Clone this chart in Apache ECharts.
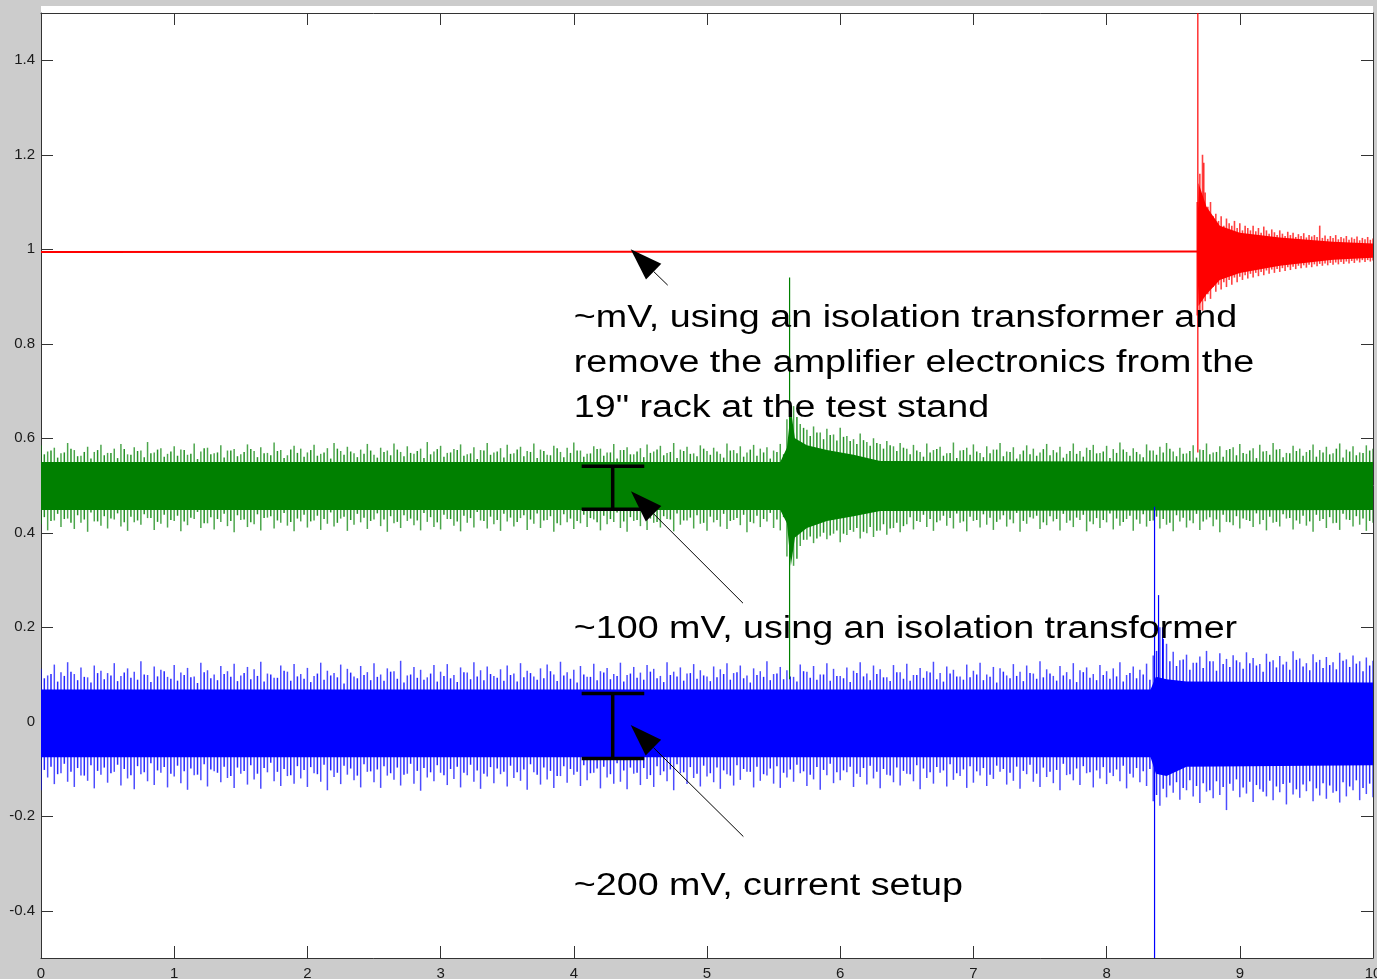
<!DOCTYPE html>
<html><head><meta charset="utf-8">
<script src="https://cdn.jsdelivr.net/npm/echarts@6/dist/echarts.min.js"></script>
<style>html,body{margin:0;padding:0;background:#cccccc;}#c{width:1377px;height:979px;}</style>
</head><body><div id="c"></div>
<script>
// ---- axes ----
const xTicks = [0,1,2,3,4,5,6,7,8,9,10];
const yTicks = [-0.4,-0.2,0,0.2,0.4,0.6,0.8,1,1.2,1.4];

// ---- noise envelopes ----
// outer peaks sampled every noiseStep from x=0; inner peaks sampled every noiseStep from x=innerStart
const noiseStep = 0.05;
const innerStart = 0.025;
const greenTop = [
.585,.572,.580,.568,.590,.575,.563,.582,.571,.586,
.569,.578,.588,.566,.581,.574,.592,.570,.579,.567,
.583,.576,.565,.589,.572,.580,.568,.585,.574,.577,
.566,.587,.573,.581,.569,.591,.575,.564,.584,.578,
.570,.586,.567,.579,.590,.573,.582,.568,.576,.588,
.565,.580,.574,.589,.571,.583,.567,.578,.592,.572,
.584,.569,.577,.587,.566,.581,.575,.590,.570,.579,
.586,.568,.582,.573,.589,.576,.565,.584,.571,.580,
.591,.574,.567,.583,.578,.570,.588,.575,.581,.566,
.579,.587,.572,.584,.569,.590,.576,.582,.568,.585,
.573,.580,.567,.589,.575,.583,.570,.586,.578,.581,
.574,.588,.640,.668,.630,.618,.625,.612,.620,.608,
.622,.605,.598,.610,.592,.600,.588,.594,.583,.590,
.578,.586,.571,.589,.575,.582,.568,.591,.574,.580,
.587,.569,.583,.576,.590,.572,.581,.566,.585,.578,
.570,.588,.575,.582,.567,.589,.573,.580,.586,.569,
.584,.577,.591,.571,.579,.566,.587,.574,.582,.590,
.572,.580,.568,.585,.576,.589,.570,.583,.575,.581,
.588,.567,.579,.586,.573,.590,.577,.569,.584,.578,
.571,.587,.575,.582,.568,.589,.576,.583,.570,.585,
.578];
const greenBottom = [
.418,.405,.426,.412,.430,.408,.421,.402,.424,.415,
.409,.428,.413,.404,.422,.417,.431,.406,.419,.411,
.425,.403,.416,.429,.410,.420,.407,.423,.414,.401,
.427,.412,.418,.405,.432,.409,.421,.415,.403,.424,
.411,.426,.406,.419,.413,.430,.404,.417,.422,.408,
.428,.414,.402,.420,.410,.425,.416,.405,.423,.412,
.407,.429,.415,.403,.421,.411,.426,.409,.418,.404,
.424,.413,.431,.406,.419,.410,.427,.402,.416,.422,
.408,.420,.412,.428,.405,.418,.423,.410,.402,.425,
.414,.406,.421,.411,.429,.403,.417,.426,.409,.419,
.404,.422,.413,.408,.427,.416,.401,.420,.412,.424,
.410,.405,.350,.330,.372,.385,.378,.392,.386,.398,
.380,.395,.402,.388,.399,.391,.405,.396,.410,.401,
.418,.407,.423,.412,.404,.426,.415,.409,.421,.403,
.425,.411,.417,.406,.428,.413,.420,.402,.419,.430,
.408,.416,.424,.405,.421,.412,.427,.403,.418,.410,
.422,.407,.415,.429,.404,.419,.413,.426,.409,.417,
.403,.424,.411,.420,.406,.428,.414,.401,.423,.416,
.409,.427,.412,.418,.405,.421,.413,.430,.407,.419,
.415,.402,.425,.410,.420,.406,.428,.413,.417,.404,
.421];
const greenInnerTop = [
.566,.574,.559,.570,.578,.562,.571,.557,.575,.564,
.569,.558,.577,.565,.573,.560,.568,.576,.561,.572,
.563,.575,.567,.556,.579,.566,.570,.559,.574,.562,
.571,.577,.560,.568,.564,.573,.558,.576,.569,.561,
.575,.563,.570,.557,.578,.565,.572,.560,.567,.574,
.559,.571,.564,.576,.562,.569,.573,.558,.566,.577,
.561,.570,.575,.563,.568,.556,.574,.565,.572,.559,
.567,.576,.562,.571,.558,.573,.564,.579,.560,.569,
.574,.561,.568,.577,.563,.570,.557,.575,.566,.572,
.560,.569,.576,.564,.571,.558,.573,.567,.562,.578,
.565,.572,.559,.574,.568,.561,.576,.563,.570,.557,
.571,.566,.610,.645,.622,.605,.612,.598,.607,.595,
.603,.594,.588,.596,.584,.590,.578,.585,.573,.580,
.566,.574,.561,.570,.577,.563,.569,.558,.575,.565,
.572,.560,.568,.576,.562,.571,.557,.574,.566,.563,
.577,.564,.570,.559,.573,.567,.561,.575,.568,.572,
.558,.569,.576,.563,.571,.560,.574,.565,.570,.578,
.562,.567,.573,.559,.575,.566,.571,.561,.577,.564,
.569,.574,.558,.572,.565,.576,.560,.568,.573,.563,
.575,.561,.570,.566,.578,.559,.572,.564,.569,.574];
const greenInnerBottom = [
.433,.425,.440,.429,.421,.437,.428,.443,.424,.435,
.430,.441,.422,.434,.426,.439,.431,.423,.438,.427,
.436,.424,.432,.444,.420,.433,.429,.440,.425,.437,
.428,.422,.439,.431,.435,.426,.442,.423,.430,.438,
.424,.436,.429,.443,.421,.434,.427,.440,.432,.425,
.441,.428,.435,.423,.437,.430,.426,.442,.433,.422,
.438,.429,.424,.436,.431,.444,.425,.434,.427,.440,
.432,.423,.437,.428,.441,.426,.435,.420,.439,.430,
.425,.438,.431,.422,.436,.429,.443,.424,.433,.427,
.439,.430,.423,.435,.428,.441,.426,.432,.437,.421,
.434,.427,.440,.425,.431,.438,.423,.436,.429,.442,
.428,.433,.370,.345,.385,.392,.388,.400,.394,.405,
.398,.406,.410,.402,.412,.404,.418,.409,.421,.414,
.433,.425,.438,.429,.422,.436,.431,.441,.424,.434,
.427,.439,.432,.423,.437,.428,.442,.425,.433,.436,
.422,.435,.429,.440,.426,.432,.438,.424,.431,.427,
.441,.430,.423,.436,.428,.439,.425,.434,.429,.421,
.437,.432,.426,.440,.424,.433,.428,.438,.422,.435,
.430,.425,.441,.427,.434,.423,.439,.431,.426,.436,
.424,.438,.429,.433,.421,.440,.427,.435,.430,.425];
const greenCore = [[0,.448,.550],[5.55,.448,.550],[5.60,.420,.580],[5.63,.330,.660],[5.66,.390,.600],[5.75,.410,.585],[5.90,.425,.575],[6.10,.435,.565],[6.30,.446,.552],[10,.448,.550]];
const greenSpikes = [[5.62,0.09,0.94]];

const blueTop = [
.112,.098,.121,.105,.126,.101,.115,.094,.119,.108,
.103,.124,.097,.113,.106,.128,.099,.117,.110,.095,
.120,.104,.114,.096,.125,.109,.100,.118,.107,.123,
.098,.116,.111,.127,.102,.093,.119,.106,.122,.101,
.114,.097,.125,.108,.103,.121,.112,.096,.118,.105,
.124,.100,.113,.107,.129,.098,.116,.110,.094,.120,
.106,.122,.099,.115,.104,.126,.109,.117,.097,.111,
.119,.102,.124,.108,.096,.113,.121,.100,.127,.105,
.110,.118,.095,.123,.107,.114,.101,.125,.099,.116,
.104,.120,.112,.097,.126,.106,.115,.102,.122,.109,
.096,.117,.111,.124,.103,.119,.098,.113,.107,.128,
.101,.116,.109,.095,.121,.106,.118,.100,.124,.112,
.097,.115,.108,.126,.102,.119,.111,.094,.120,.105,
.123,.099,.114,.107,.127,.103,.117,.110,.096,.121,
.108,.125,.100,.116,.113,.098,.122,.106,.119,.102,
.128,.111,.097,.118,.105,.124,.109,.115,.101,.120,
.107,.113,.126,.099,.117,.110,.123,.140,.200,.165,
.148,.130,.142,.125,.138,.150,.128,.145,.133,.141,
.126,.147,.135,.122,.144,.130,.139,.127,.149,.134,
.124,.143,.131,.137,.126,.146,.132,.140,.128,.136,
.129];
const blueBottom = [
-.145,-.118,-.132,-.109,-.127,-.138,-.114,-.125,-.141,-.112,
-.129,-.106,-.135,-.120,-.143,-.111,-.126,-.134,-.108,-.139,
-.116,-.130,-.144,-.113,-.124,-.137,-.105,-.128,-.119,-.140,
-.110,-.133,-.122,-.142,-.107,-.126,-.136,-.115,-.131,-.120,
-.138,-.109,-.127,-.145,-.117,-.132,-.112,-.124,-.139,-.106,
-.128,-.140,-.114,-.123,-.135,-.110,-.131,-.146,-.118,-.126,
-.108,-.134,-.121,-.139,-.113,-.127,-.142,-.116,-.130,-.111,
-.137,-.119,-.125,-.144,-.107,-.133,-.122,-.140,-.115,-.129,
-.112,-.136,-.124,-.108,-.141,-.118,-.131,-.127,-.143,-.110,
-.134,-.121,-.138,-.113,-.126,-.145,-.109,-.132,-.119,-.137,
-.116,-.128,-.142,-.111,-.135,-.123,-.106,-.139,-.125,-.114,
-.131,-.140,-.118,-.127,-.109,-.136,-.122,-.144,-.113,-.130,
-.124,-.107,-.138,-.117,-.133,-.120,-.141,-.112,-.128,-.135,
-.110,-.126,-.143,-.119,-.131,-.108,-.137,-.123,-.115,-.140,
-.129,-.114,-.136,-.121,-.106,-.133,-.125,-.142,-.111,-.127,
-.138,-.117,-.130,-.145,-.113,-.124,-.134,-.109,-.139,-.120,
-.132,-.115,-.126,-.141,-.118,-.128,-.136,-.168,-.178,-.160,
-.150,-.165,-.145,-.158,-.172,-.148,-.162,-.155,-.187,-.146,
-.160,-.152,-.170,-.143,-.158,-.166,-.149,-.175,-.154,-.161,
-.147,-.168,-.156,-.163,-.150,-.171,-.158,-.145,-.166,-.153,
-.160];
const blueInnerTop = [
.092,.101,.085,.097,.106,.088,.095,.083,.103,.090,
.098,.086,.104,.093,.089,.100,.084,.096,.107,.091,
.087,.099,.094,.082,.105,.092,.088,.101,.095,.086,
.103,.090,.097,.085,.100,.093,.108,.087,.096,.091,
.084,.102,.089,.098,.094,.081,.104,.092,.099,.088,
.095,.087,.106,.091,.083,.100,.093,.089,.102,.085,
.097,.092,.084,.105,.090,.096,.088,.101,.093,.087,
.099,.085,.094,.103,.089,.092,.107,.086,.098,.091,
.083,.100,.095,.088,.104,.090,.097,.085,.102,.093,
.089,.106,.092,.084,.099,.096,.087,.103,.091,.098,
.086,.094,.101,.089,.105,.092,.083,.099,.095,.088,
.102,.090,.096,.085,.107,.093,.089,.100,.087,.097,
.092,.084,.103,.096,.088,.101,.094,.086,.105,.091,
.087,.099,.093,.104,.090,.085,.102,.096,.089,.094,
.100,.088,.095,.083,.106,.092,.097,.086,.103,.091,
.094,.102,.087,.098,.090,.084,.105,.093,.088,.099,
.091,.096,.085,.103,.092,.100,.089,.150,.175,.128,
.118,.132,.110,.125,.114,.128,.108,.122,.116,.130,
.112,.124,.119,.106,.127,.115,.121,.110,.131,.117,
.109,.126,.114,.120,.111,.129,.116,.123,.107,.119];
const blueInnerBottom = [
-.102,-.095,-.111,-.089,-.106,-.098,-.114,-.092,-.104,-.097,
-.109,-.091,-.100,-.113,-.094,-.107,-.088,-.103,-.096,-.110,
-.093,-.105,-.099,-.112,-.090,-.101,-.108,-.095,-.115,-.097,
-.104,-.092,-.110,-.098,-.087,-.106,-.100,-.113,-.094,-.102,
-.096,-.111,-.091,-.103,-.108,-.093,-.099,-.114,-.090,-.105,
-.101,-.094,-.109,-.097,-.112,-.089,-.104,-.098,-.107,-.092,
-.113,-.100,-.095,-.108,-.091,-.103,-.110,-.096,-.099,-.106,
-.093,-.107,-.101,-.090,-.112,-.097,-.104,-.115,-.094,-.100,
-.106,-.092,-.109,-.099,-.095,-.111,-.088,-.103,-.097,-.108,
-.098,-.113,-.094,-.105,-.101,-.090,-.107,-.096,-.110,-.093,
-.109,-.097,-.103,-.114,-.092,-.100,-.106,-.095,-.111,-.099,
-.094,-.108,-.101,-.091,-.105,-.112,-.096,-.102,-.089,-.107,
-.103,-.095,-.110,-.098,-.093,-.106,-.100,-.114,-.097,-.104,
-.111,-.092,-.099,-.107,-.096,-.103,-.090,-.109,-.101,-.094,
-.105,-.098,-.112,-.093,-.100,-.108,-.095,-.104,-.091,-.110,
-.097,-.106,-.102,-.089,-.111,-.099,-.094,-.107,-.103,-.096,
-.108,-.101,-.093,-.110,-.098,-.105,-.100,-.155,-.142,-.135,
-.128,-.140,-.124,-.136,-.130,-.145,-.126,-.138,-.131,-.122,
-.139,-.127,-.134,-.148,-.125,-.137,-.132,-.129,-.143,-.133,
-.126,-.141,-.130,-.135,-.147,-.128,-.137,-.124,-.140,-.131];
const blueCore = [[0,-.075,.068],[8.33,-.075,.068],[8.37,-.110,.095],[8.45,-.115,.090],[8.60,-.095,.085],[10,-.092,.083]];
const blueSpikes = [[8.36,-0.5,0.455],[8.39,0.0,0.268],[8.42,0.0,0.20]];

// red: flat trace, then a decaying burst sampled every redStep from redStart
const redBase = [[0,0.994],[8.68,0.995]];
const redStart = 8.68, redStep = 0.02;
const redTop = [
1.10,1.16,1.20,1.12,1.09,1.10,1.07,1.075,1.06,1.07,
1.05,1.065,1.055,1.05,1.06,1.045,1.055,1.04,1.05,1.045,
1.04,1.05,1.038,1.045,1.035,1.048,1.04,1.033,1.042,1.036,
1.03,1.04,1.033,1.028,1.037,1.03,1.035,1.026,1.032,1.028,
1.034,1.025,1.03,1.027,1.03,1.026,1.05,1.024,1.029,1.022,
1.028,1.024,1.03,1.021,1.026,1.023,1.028,1.02,1.025,1.022,
1.027,1.019,1.024,1.021,1.026,1.02,1.023];
const redBottom = [
0.86,0.85,0.87,0.89,0.905,0.895,0.92,0.91,0.925,0.915,
0.93,0.92,0.935,0.925,0.94,0.93,0.942,0.935,0.945,0.938,
0.948,0.94,0.95,0.943,0.952,0.945,0.955,0.948,0.957,0.95,
0.958,0.952,0.96,0.954,0.962,0.956,0.963,0.958,0.965,0.96,
0.966,0.961,0.967,0.962,0.968,0.964,0.969,0.965,0.97,0.966,
0.971,0.967,0.972,0.968,0.973,0.969,0.974,0.97,0.975,0.971,
0.976,0.972,0.977,0.973,0.977,0.974,0.976];
const redCore = [[8.68,.995,.995],[8.69,.880,1.140],[8.75,.905,1.090],[8.85,.935,1.050],[9.0,.950,1.035],[9.3,.965,1.025],[9.7,.978,1.016],[10,.982,1.012]];
const redSpikes = [[8.685,0.57,1.5],[8.73,1.0,1.183]];

// ---- annotations (data coordinates) ----
const arrows = [[4.705,0.924,4.427,1.0],[5.270,0.251,4.429,0.488],[5.273,-0.243,4.427,-0.007]];
const ibeams = [[4.059,4.529,4.292,0.541,0.450],[4.059,4.529,4.292,0.060,-0.078]];
const notes = [
 [4.0,0.8545,'~mV, using an isolation transformer and'],
 [4.0,0.7593,'remove the amplifier electronics from the'],
 [4.0,0.6640,'19" rack at the test stand'],
 [4.0,0.1963,'~100 mV, using an isolation transformer'],
 [4.0,-0.3476,'~200 mV, current setup']
];

const FONT = '"Liberation Sans", Arial, sans-serif';

function gridTable(top, bottom, start, step){
  return top.map((t,i)=>[start + i*step, bottom[i], t]);
}
function vbarRender(color, width, opacity){
  return function(params, api){
    const x = api.value(0), lo = api.value(1), hi = api.value(2);
    const p1 = api.coord([x, lo]), p2 = api.coord([x, hi]);
    return {type:'line', shape:{x1:p1[0], y1:p1[1], x2:p2[0], y2:p2[1]},
      style:{stroke:color, lineWidth:width, opacity:opacity}};
  };
}
function bandRender(core, color){
  return function(params, api){
    const pts = [];
    core.forEach(c=>pts.push(api.coord([c[0], c[2]])));
    for(let i=core.length-1;i>=0;i--) pts.push(api.coord([core[i][0], core[i][1]]));
    return {type:'polygon', shape:{points:pts}, style:{fill:color}};
  };
}
function vbarSeries(data, color, width, opacity, z){
  return {type:'custom', xAxisIndex:0, yAxisIndex:0, data:data, encode:{x:0, y:[1,2]},
    renderItem:vbarRender(color, width, opacity), clip:true, silent:true, z:z, animation:false};
}
function bandSeries(core, color, z){
  return {type:'custom', xAxisIndex:0, yAxisIndex:0, data:[[core[0][0], core[0][1]]], encode:{x:0,y:1},
    renderItem:bandRender(core, color), clip:true, silent:true, z:z, animation:false};
}

const chart = echarts.init(document.getElementById('c'), null, {renderer:'canvas'});
const axisLineStyle = {color:'#333', width:1};
const tickStyle = {inside:true, length:12, lineStyle:{color:'#333', width:1}};
const labelStyle = {color:'#1a1a1a', fontSize:15, fontFamily:FONT};

chart.setOption({
  backgroundColor:'#cccccc',
  animation:false,
  graphic:[{type:'rect', shape:{x:41, y:6, width:1332, height:952}, style:{fill:'#ffffff'}, z:-100, silent:true}],
  grid:{left:41, right:4, top:13, bottom:21, containLabel:false, outerBoundsMode:'none'},
  xAxis:[
    {type:'value', min:0, max:10, interval:1, position:'bottom',
     axisLine:{show:true, onZero:false, lineStyle:axisLineStyle}, axisTick:Object.assign({customValues:xTicks}, tickStyle),
     axisLabel:Object.assign({margin:8, customValues:xTicks, showMaxLabel:true, showMinLabel:true, hideOverlap:false}, labelStyle), splitLine:{show:false}},
    {type:'value', min:0, max:10, interval:1, position:'top',
     axisLine:{show:true, onZero:false, lineStyle:axisLineStyle}, axisTick:Object.assign({customValues:xTicks}, tickStyle),
     axisLabel:{show:false}, splitLine:{show:false}}
  ],
  yAxis:[
    {type:'value', min:-0.5, max:1.5, position:'left',
     axisLine:{show:true, onZero:false, lineStyle:axisLineStyle}, axisTick:Object.assign({customValues:yTicks}, tickStyle),
     axisLabel:Object.assign({margin:6, customValues:yTicks}, labelStyle), splitLine:{show:false}},
    {type:'value', min:-0.5, max:1.5, position:'right',
     axisLine:{show:true, onZero:false, lineStyle:axisLineStyle}, axisTick:Object.assign({customValues:yTicks}, tickStyle),
     axisLabel:{show:false}, splitLine:{show:false}}
  ],
  series:[
    vbarSeries(gridTable(blueTop, blueBottom, 0, noiseStep), '#0000ff', 1.5, 0.7, 2),
    vbarSeries(gridTable(blueInnerTop, blueInnerBottom, innerStart, noiseStep), '#0000ff', 1.5, 0.85, 2),
    bandSeries(blueCore, '#0000ff', 3),
    vbarSeries(gridTable(greenTop, greenBottom, 0, noiseStep), '#008000', 1.5, 0.7, 4),
    vbarSeries(gridTable(greenInnerTop, greenInnerBottom, innerStart, noiseStep), '#008000', 1.5, 0.85, 4),
    bandSeries(greenCore, '#008000', 5),
    {type:'line', xAxisIndex:0, yAxisIndex:0, data:redBase, showSymbol:false, symbol:'none',
     lineStyle:{color:'#ff0000', width:2}, z:6, silent:true, animation:false},
    vbarSeries(gridTable(redTop, redBottom, redStart, redStep), '#ff0000', 1.6, 0.75, 6),
    bandSeries(redCore, '#ff0000', 7),
    vbarSeries(blueSpikes, '#0000ff', 1.2, 1, 8),
    vbarSeries(greenSpikes, '#008000', 1.2, 1, 8),
    vbarSeries(redSpikes, '#ff0000', 1.2, 1, 8),
    {type:'custom', xAxisIndex:0, yAxisIndex:0, data:ibeams, encode:{x:[0,1], y:[3,4]}, z:20, silent:true, animation:false,
     renderItem:function(params, api){
       const xl=api.value(0), xr=api.value(1), xc=api.value(2), yt=api.value(3), yb=api.value(4);
       const a=api.coord([xl,yt]), b=api.coord([xr,yt]), c=api.coord([xl,yb]), d=api.coord([xr,yb]);
       const e=api.coord([xc,yt]), f=api.coord([xc,yb]);
       const st={stroke:'#000', lineWidth:3.5};
       return {type:'group', children:[
         {type:'line', shape:{x1:a[0],y1:a[1],x2:b[0],y2:b[1]}, style:st},
         {type:'line', shape:{x1:c[0],y1:c[1],x2:d[0],y2:d[1]}, style:st},
         {type:'line', shape:{x1:e[0],y1:e[1],x2:f[0],y2:f[1]}, style:st}
       ]};
     }},
    {type:'custom', xAxisIndex:0, yAxisIndex:0, data:arrows, encode:{x:[0,2], y:[1,3]}, z:20, silent:true, animation:false,
     renderItem:function(params, api){
       const t=api.coord([api.value(0), api.value(1)]), h=api.coord([api.value(2), api.value(3)]);
       const dx=t[0]-h[0], dy=t[1]-h[1], L=Math.sqrt(dx*dx+dy*dy), ux=dx/L, uy=dy/L;
       const hl=32, hw=11;
       const bx=h[0]+ux*hl, by=h[1]+uy*hl;
       return {type:'group', children:[
         {type:'line', shape:{x1:t[0],y1:t[1],x2:bx,y2:by}, style:{stroke:'#000', lineWidth:1}},
         {type:'polygon', shape:{points:[[h[0],h[1]],[bx-uy*hw, by+ux*hw],[bx+uy*hw, by-ux*hw]]}, style:{fill:'#000'}}
       ]};
     }},
    {type:'custom', xAxisIndex:0, yAxisIndex:0, data:notes.map(n=>[n[0], n[1]]), encode:{x:0,y:1}, z:30, silent:true, animation:false,
     renderItem:function(params, api){
       const p=api.coord([api.value(0), api.value(1)]);
       return {type:'text', x:p[0], y:p[1], scaleX:1.215, scaleY:1,
         style:{text:notes[params.dataIndex][2], fontSize:31, fontFamily:FONT, fill:'#000', align:'left', verticalAlign:'middle'}};
     }}
  ]
});
</script>
</body></html>
